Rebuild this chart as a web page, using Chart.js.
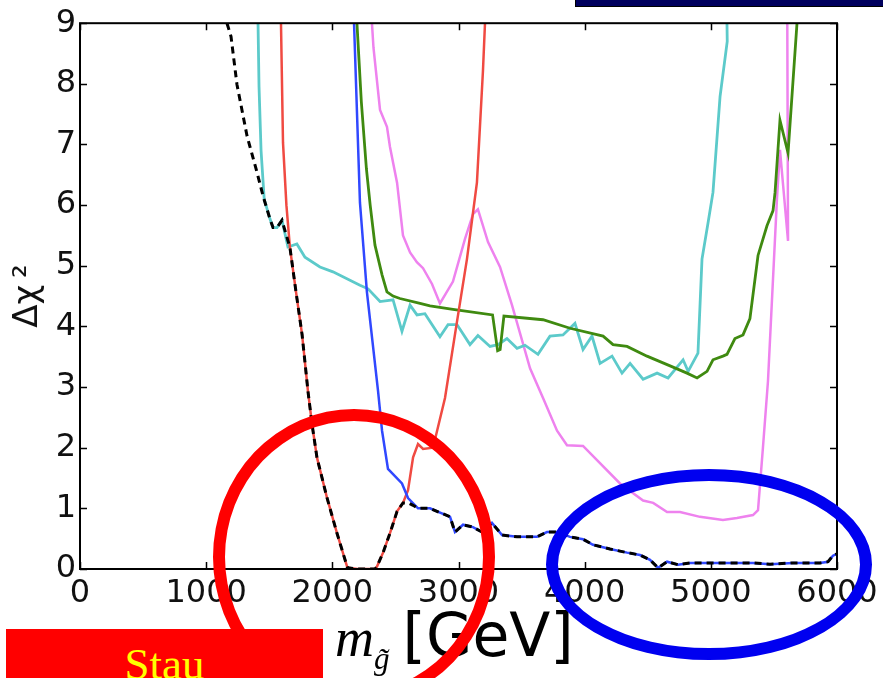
<!DOCTYPE html>
<html>
<head>
<meta charset="utf-8">
<script src="https://cdn.jsdelivr.net/npm/chart.js@4.4.0/dist/chart.umd.min.js"></script>
<style>
  html, body { margin: 0; padding: 0; background: #fff; }
  #wrap { position: relative; width: 883px; height: 678px; overflow: hidden; }
  #chart { position: absolute; left: 0; top: 0; }
  #topBar { position: absolute; left: 575px; top: 0; width: 308px; height: 6px;
            background: #00005e; border-bottom: 1px solid #000; border-left: 1px solid #000; }
  #xTitle { position: absolute; left: 335px; top: 600px; white-space: nowrap; line-height: 57px; color: #000; }
  #xTitle .m { font: italic 54px "Liberation Serif", serif; }
  #xTitle .sub { font: italic 31px "Liberation Serif", serif; vertical-align: -13px; }
  #xTitle .gev { font: 60px "DejaVu Sans", sans-serif; margin-left: 13px; }
  #stauBox { position: absolute; left: 6px; top: 629px; width: 317px; height: 70px; background: #ff0000;
             color: #ffff00; font: 45px "Liberation Serif", serif; line-height: 45px; text-align: center;
             box-sizing: border-box; padding-top: 13px; }
  .ring { position: absolute; box-sizing: border-box; border-radius: 50%; }
  #redRing { left: 213px; top: 409px; width: 282px; height: 296px; border: 12px solid #ff0000; }
  #blueRing { left: 546px; top: 469px; width: 326px; height: 191px; border: 12px solid #0000f0; }
</style>
</head>
<body>
<div id="wrap">
  <canvas id="chart" width="883" height="678"></canvas>
  <div id="topBar"></div>
  <div id="xTitle"><span class="m">m</span><span class="sub">g̃</span><span class="gev">[GeV]</span></div>
  <div id="stauBox">Stau</div>
  <div id="redRing" class="ring"></div>
  <div id="blueRing" class="ring"></div>
</div>
<script>
// --- datos (m_gluino en GeV, delta chi^2) ---

const xTicks = [0, 1000, 2000, 3000, 4000, 5000, 6000];
const yTicks = [0, 1, 2, 3, 4, 5, 6, 7, 8, 9];

// minimo global (negro discontinuo)
const mBlack = [1165, 1197, 1244, 1324, 1403, 1451, 1506, 1530, 1561, 1601,
                1664, 1712, 1760, 1807, 1839, 1878, 1957, 2037, 2120, 2200,
                2338, 2354, 2402, 2457, 2513, 2560, 2600, 2640, 2679, 2774,
                2933, 2972, 3036, 3115, 3186, 3265, 3345, 3464, 3622, 3701,
                3781, 3884, 3987, 4066, 4201, 4336, 4439, 4518, 4582, 4653,
                4740, 4835, 4970, 5152, 5334, 5469, 5651, 5865, 5929, 5968, 6000];
const chiBlack = [9.0, 8.78, 7.99, 7.14, 6.54, 6.15, 5.77, 5.63, 5.63, 5.75,
                  5.3, 4.57, 3.87, 2.93, 2.39, 1.84, 1.18, 0.59, 0.02, 0.0,
                  0.0, 0.04, 0.27, 0.59, 0.95, 1.09, 1.09, 1.05, 1.0, 1.0,
                  0.86, 0.61, 0.73, 0.69, 0.61, 0.76, 0.56, 0.53, 0.53, 0.61,
                  0.61, 0.53, 0.49, 0.40, 0.33, 0.27, 0.23, 0.15, 0.02, 0.12,
                  0.07, 0.10, 0.10, 0.10, 0.10, 0.08, 0.10, 0.10, 0.12, 0.22, 0.25];

// azul
const mBlue = [2172, 2219, 2274, 2362, 2394, 2441, 2552, 2600, 2679, 2774,
               2933, 2972, 3036, 3115, 3186, 3265, 3345, 3464, 3622, 3701,
               3781, 3884, 3987, 4066, 4201, 4336, 4439, 4518, 4582, 4653,
               4740, 4835, 4970, 5152, 5334, 5469, 5651, 5865, 5929, 5968, 6000];
const chiBlue = [9.0, 6.04, 4.57, 2.94, 2.28, 1.65, 1.41, 1.17, 1.0, 1.0,
                 0.86, 0.61, 0.73, 0.69, 0.61, 0.76, 0.56, 0.53, 0.53, 0.61,
                 0.61, 0.53, 0.49, 0.40, 0.33, 0.27, 0.23, 0.15, 0.02, 0.12,
                 0.07, 0.10, 0.10, 0.10, 0.10, 0.08, 0.10, 0.10, 0.12, 0.22, 0.25];

// rojo (stau)
const mRed = [1593, 1609, 1636, 1664, 1712, 1760, 1807, 1839, 1878, 1957,
              2037, 2120, 2200, 2338, 2354, 2402, 2457, 2513, 2560, 2600,
              2640, 2679, 2719, 2798, 2893, 2988, 3067, 3146, 3194, 3210];
const chiRed = [9.0, 7.03, 6.0, 5.3, 4.57, 3.87, 2.93, 2.39, 1.84, 1.18,
                0.59, 0.02, 0.0, 0.0, 0.04, 0.27, 0.59, 0.95, 1.09, 1.30,
                1.84, 2.06, 1.98, 2.0, 2.82, 4.08, 5.11, 6.37, 8.22, 9.0];

// verde
const mGreen = [2195, 2230, 2270, 2300, 2338, 2394, 2433, 2481, 2536, 2695,
                2774, 2956, 3270, 3310, 3330, 3360, 3670, 3884, 4146, 4225,
                4336, 4494, 4677, 4811, 4891, 4970, 5017, 5096, 5128, 5191,
                5255, 5310, 5374, 5445, 5493, 5509, 5548, 5612, 5683];
const chiGreen = [9.0, 7.7, 6.6, 6.0, 5.34, 4.85, 4.57, 4.5, 4.46, 4.38,
                  4.34, 4.28, 4.19, 3.6, 3.62, 4.17, 4.11, 3.97, 3.84, 3.70,
                  3.67, 3.51, 3.35, 3.23, 3.15, 3.26, 3.45, 3.51, 3.54, 3.80,
                  3.86, 4.13, 5.17, 5.66, 5.91, 6.21, 7.40, 6.86, 9.0];

// cian
const mCyan = [1411, 1419, 1435, 1460, 1506, 1530, 1561, 1601, 1648, 1719,
               1783, 1902, 2005, 2219, 2283, 2378, 2481, 2552, 2616, 2671,
               2734, 2853, 2917, 2988, 3091, 3154, 3250, 3313, 3384, 3464,
               3527, 3630, 3725, 3828, 3923, 3987, 4058, 4122, 4217, 4296,
               4360, 4463, 4574, 4661, 4780, 4820, 4898, 4930, 4978, 5017,
               5073, 5130, 5128];
const chiCyan = [9.0, 7.95, 6.9, 6.1, 5.77, 5.63, 5.63, 5.75, 5.31, 5.36,
                 5.14, 4.98, 4.90, 4.68, 4.62, 4.41, 4.44, 3.92, 4.35, 4.19,
                 4.21, 3.83, 4.03, 4.03, 3.70, 3.85, 3.67, 3.70, 3.80, 3.64,
                 3.69, 3.54, 3.84, 3.86, 4.05, 3.62, 3.84, 3.39, 3.51, 3.23,
                 3.39, 3.13, 3.23, 3.15, 3.45, 3.26, 3.56, 5.11, 5.71, 6.21,
                 7.79, 8.7, 9.0];

// violeta
const mPink = [2314, 2326, 2378, 2433, 2457, 2513, 2560, 2616, 2670, 2719,
               2790, 2853, 2956, 3051, 3115, 3154, 3234, 3329, 3424, 3567,
               3670, 3781, 3860, 3987, 4280, 4463, 4543, 4653, 4756, 4914,
               5096, 5207, 5334, 5374, 5413, 5453, 5524, 5548, 5612, 5606];
const chiPink = [9.0, 8.6, 7.57, 7.29, 6.96, 6.37, 5.5, 5.22, 5.06, 4.96,
                 4.7, 4.38, 4.74, 5.44, 5.85, 5.93, 5.39, 4.98, 4.35, 3.31,
                 2.82, 2.28, 2.04, 2.03, 1.41, 1.13, 1.09, 0.94, 0.94, 0.86,
                 0.81, 0.84, 0.89, 0.97, 2.0, 3.1, 6.1, 6.91, 5.41, 9.0];

function pts(xs, ys) {
    return xs.map((x, i) => ({ x: x, y: ys[i] }));
}

function serie(xs, ys, color, width, dash) {
    return {
        data: pts(xs, ys),
        borderColor: color,
        borderWidth: width,
        borderDash: dash || [],
        pointRadius: 0,
        tension: 0,
        fill: false
    };
}

// marco y marcas hacia dentro, estilo matplotlib
const frameTicks = {
    id: 'frameTicks',
    afterDatasetsDraw(chart) {
        const { ctx, chartArea: a, scales: { x, y } } = chart;
        ctx.save();
        ctx.strokeStyle = '#000';
        ctx.lineWidth = 1.5;
        ctx.beginPath();
        xTicks.forEach(v => {
            const px = Math.round(x.getPixelForValue(v)) + 0.5;
            ctx.moveTo(px, a.bottom); ctx.lineTo(px, a.bottom - 7);
            ctx.moveTo(px, a.top); ctx.lineTo(px, a.top + 7);
        });
        yTicks.forEach(v => {
            const py = Math.round(y.getPixelForValue(v)) + 0.5;
            ctx.moveTo(a.left, py); ctx.lineTo(a.left + 7, py);
            ctx.moveTo(a.right, py); ctx.lineTo(a.right - 7, py);
        });
        ctx.stroke();
        ctx.lineWidth = 2;
        ctx.strokeRect(a.left, a.top, a.right - a.left, a.bottom - a.top);
        ctx.restore();
    }
};

Chart.defaults.font.family = '"DejaVu Sans", sans-serif';
Chart.defaults.color = '#111';

new Chart(document.getElementById('chart'), {
    type: 'line',
    data: {
        datasets: [
            serie(mBlack, chiBlack, '#000000', 3, [7, 5]),
            serie(mBlue, chiBlue, '#3048ff', 2.5),
            serie(mRed, chiRed, '#f04a42', 2.5),
            serie(mGreen, chiGreen, '#3f8a10', 2.8),
            serie(mCyan, chiCyan, '#5ccaca', 2.8),
            serie(mPink, chiPink, '#ee82ee', 2.5)
        ]
    },
    options: {
        responsive: false,
        animation: false,
        layout: { padding: { top: 19, right: 46, left: 0, bottom: 0 } },
        plugins: { legend: { display: false }, tooltip: { enabled: false } },
        scales: {
            x: {
                type: 'linear', min: 0, max: 6000,
                afterFit: s => { s.height = 109; },
                afterBuildTicks: s => { s.ticks = xTicks.map(v => ({ value: v })); },
                ticks: { padding: 5, font: { size: 32 }, maxRotation: 0, autoSkip: false,
                         callback: v => String(v) },
                grid: { display: false, drawTicks: false },
                border: { display: false }
            },
            y: {
                type: 'linear', min: 0, max: 9,
                afterFit: s => { s.width = 80; },
                afterBuildTicks: s => { s.ticks = yTicks.map(v => ({ value: v })); },
                ticks: { padding: 4, font: { size: 32 }, callback: v => String(v) },
                grid: { display: false, drawTicks: false },
                border: { display: false },
                title: { display: true, text: 'Δχ\u2009²', font: { size: 34 }, padding: { top: 8, bottom: 0 } }
            }
        }
    },
    plugins: [frameTicks]
});
</script>
</body>
</html>
